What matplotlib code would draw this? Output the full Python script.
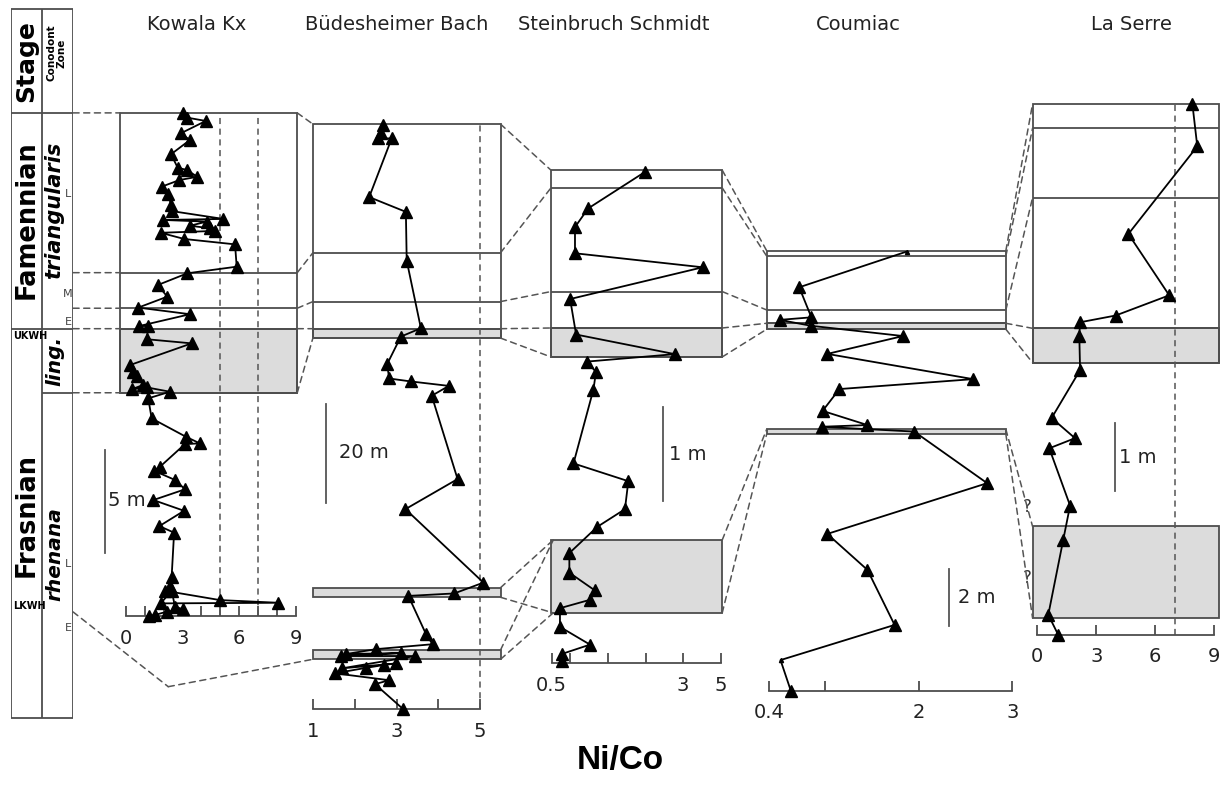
import numpy as np
import matplotlib.pyplot as plt
from matplotlib.patches import Rectangle, ConnectionPatch

W, H = 1226, 785
EDGE = '#4d4d4d'
GRAY = '#dcdcdc'
DASH = '#555555'
DSTYLE = (0, (4, 3))

# ---- data: Ni/Co ratio vs height above section base (m) ----
kowala_nico = [3.01, 3.25, 4.23, 2.90, 3.39, 2.39, 2.74, 3.22, 3.78, 2.83, 1.89, 2.24, 2.39, 2.42,
               5.16, 1.98, 4.28, 3.39, 4.45, 4.72, 1.84, 3.09, 5.78, 5.87, 3.25, 1.68, 2.19, 0.65,
               3.39, 0.71, 1.18, 1.10, 3.48, 0.21, 0.39, 0.60, 0.92, 0.30, 1.10, 2.33, 1.18, 1.36,
               3.18, 3.92, 3.13, 1.80, 1.48, 2.60, 3.13, 1.45, 3.08, 1.77, 2.55, 2.42, 2.33, 2.07,
               4.98, 8.08, 1.84, 2.42, 2.60, 3.04, 2.16, 1.54, 1.24]
kowala_h = [24.32, 24.11, 23.95, 23.35, 23.03, 22.34, 21.69, 21.58, 21.25, 21.09, 20.77, 20.40,
            19.88, 19.59, 19.21, 19.16, 19.08, 18.88, 18.76, 18.63, 18.54, 18.24, 17.98, 16.90,
            16.58, 16.01, 15.45, 14.92, 14.60, 14.03, 14.03, 13.39, 13.19, 12.14, 11.82, 11.61,
            11.18, 10.97, 11.06, 10.85, 10.53, 9.56, 8.67, 8.35, 8.32, 7.22, 7.03, 6.58, 6.13,
            5.61, 5.09, 4.35, 4.03, 1.90, 1.45, 1.22, 0.77, 0.64, 0.61, 1.22, 0.45, 0.32, 0.21,
            0.05, 0.0]

budes_nico = [2.68, 2.62, 2.56, 2.88, 2.34, 3.22, 3.24, 3.58, 3.10, 2.77, 2.82, 3.34, 4.25, 3.84,
              4.46, 3.21, 5.08, 4.38, 3.28, 3.70, 3.86, 2.50, 1.78, 3.10, 1.66, 3.44, 1.68, 2.98,
              2.70, 2.26, 1.52, 2.82, 2.48, 3.16]
budes_h = [118.5, 116.8, 115.8, 115.8, 103.9, 100.9, 91.0, 77.3, 75.6, 70.0, 67.1, 66.5, 65.6,
           63.6, 46.7, 40.6, 25.7, 23.5, 23.0, 15.3, 13.2, 12.2, 11.2, 11.4, 10.8, 10.8, 8.3,
           9.3, 9.0, 8.4, 7.3, 5.9, 5.1, 0.0]

stein_nico = [2.98, 1.47, 1.12, 1.12, 4.52, 0.99, 1.15, 3.78, 1.43, 1.68, 1.61, 1.08, 2.54, 2.45,
              1.71, 0.97, 0.97, 1.65, 1.52, 0.72, 0.72, 1.52, 0.77, 0.77]
stein_h = [5.26, 4.87, 4.67, 4.39, 4.24, 3.90, 3.52, 3.31, 3.23, 3.12, 2.93, 2.14, 1.95, 1.65,
           1.46, 1.18, 0.97, 0.78, 0.68, 0.59, 0.39, 0.20, 0.10, 0.02]

coumiac_nico = [1.87, 0.72, 0.85, 0.51, 0.85, 1.83, 1.02, 2.58, 1.15, 0.97, 1.45, 0.96, 1.95,
                2.73, 1.02, 1.45, 1.74, 0.52, 0.63]
coumiac_h = [15.49, 14.23, 13.17, 13.08, 12.87, 12.51, 11.88, 10.99, 10.64, 9.87, 9.37, 9.31,
             9.14, 7.32, 5.53, 4.26, 2.32, 1.08, 0.0]

serre_nico = [7.90, 8.15, 4.64, 6.72, 3.99, 2.18, 2.14, 2.18, 0.73, 1.92, 0.61, 1.67, 1.32, 0.56, 1.07]
serre_h = [7.88, 7.25, 5.95, 5.04, 4.74, 4.64, 4.44, 3.93, 3.22, 2.92, 2.77, 1.92, 1.41, 0.30, 0.0]

# zone boundaries (m) in each section: box top ... box bottom
kowala_levels = [24.34, 16.61, 14.89, 13.90, 10.80]
budes_levels = [118.7, 92.6, 82.7, 77.2, 75.3]
stein_levels = [5.28, 5.09, 3.98, 3.59, 3.28]
coumiac_levels = [15.52, 15.33, 13.43, 12.96, 12.75]
serre_levels = [7.88, 7.52, 6.49, 4.55, 4.04]

# grey (black-shale) intervals, (top, bottom)
kowala_grey = [(13.90, 10.80)]
budes_grey = [(77.2, 75.3), (24.67, 22.72), (12.03, 10.14)]
stein_grey = [(3.59, 3.28), (1.32, 0.54)]
coumiac_grey = [(12.96, 12.75), (9.22, 9.05)]
serre_grey = [(4.55, 4.04), (1.61, 0.25)]

fig = plt.figure(figsize=(W / 100, H / 100), dpi=100)


def make_axes(px_ref, val_ref, px_unit, vlim, ybase, ytop, px_m, hbase=0.0):
    left = px_ref + (vlim[0] - val_ref) * px_unit
    right = px_ref + (vlim[1] - val_ref) * px_unit
    ax = fig.add_axes([left / W, (H - ybase) / H, (right - left) / W, (ybase - ytop) / H])
    ax.set_xlim(*vlim)
    ax.set_ylim(hbase, hbase + (ybase - ytop) / px_m)
    ax.patch.set_alpha(0)
    for s in ['top', 'left', 'right']:
        ax.spines[s].set_visible(False)
    ax.spines['bottom'].set_color(EDGE)
    ax.spines['bottom'].set_linewidth(1.3)
    ax.set_yticks([])
    return ax


def section(ax, xl, xr, levels, greys, x, h, ticks, labels, thresholds=(), small=()):
    for g0, g1 in greys:
        ax.add_patch(Rectangle((xl, g1), xr - xl, g0 - g1, fc=GRAY, ec=EDGE, lw=1.3))
    ax.add_patch(Rectangle((xl, levels[-1]), xr - xl, levels[0] - levels[-1],
                           fill=False, ec=EDGE, lw=1.3))
    ax.hlines(levels[1:-1], xl, xr, color=EDGE, lw=1.3)
    for t in thresholds:
        ax.vlines(t, 0, levels[0], color=DASH, lw=1.1, ls=DSTYLE)
    big = [i for i in range(len(x)) if i not in small]
    ax.plot(x, h, '-^', color='black', ms=8, lw=1.3, clip_on=False, zorder=5, markevery=big)
    if small:
        ax.plot([x[i] for i in small], [h[i] for i in small], '^', color='black', ms=3,
                clip_on=False, zorder=5)
    ax.set_xticks(ticks)
    ax.set_xticklabels(labels)
    ax.spines['bottom'].set_bounds(ticks[0], ticks[-1])
    ax.tick_params(axis='x', direction='in', length=7, width=1.3, color=EDGE,
                   labelsize=14, pad=9, labelcolor='#222222')


def scale_bar(ax, x, h0, h1, txt, tx, ty):
    ax.plot([x, x], [h0, h1], color='#555555', lw=1.3, clip_on=False)
    ax.text(tx, ty, txt, fontsize=14, va='center', ha='left', color='#222222')


# ---- panels ----
ax_k = make_axes(126, 0, 18.86, (-0.5, 9.5), 616, 100, 20.67)
ax_b = make_axes(313.3, 1, 41.7, (0.9, 5.6), 709.3, 115, 4.93)
ax_s = make_axes(551.7, 0.5, 37.56, (0.4, 5.2), 663.3, 160, 93.4)
ax_c = make_axes(769.3, 0.4, 93.5, (0.35, 3.05), 690.7, 240, 28.35)
ax_l = make_axes(1037.3, 0, 19.63, (-0.4, 9.4), 635, 95, 67.4)

K_X = (-0.3, 9.08)
B_X = (0.99, 5.49)
S_X = (0.48, 5.04)
C_X = (0.372, 2.93)
L_X = (-0.24, 9.27)

section(ax_k, *K_X, kowala_levels, kowala_grey, kowala_nico, kowala_h,
        list(range(10)), ['0', '', '', '3', '', '', '6', '', '', '9'], thresholds=(5, 7))
section(ax_b, *B_X, budes_levels, budes_grey, budes_nico, budes_h,
        [1, 2, 3, 4, 5], ['1', '', '3', '', '5'], thresholds=(5,))
section(ax_s, *S_X, stein_levels, stein_grey, stein_nico, stein_h,
        [0.5, 1, 2, 3, 4, 5], ['0.5', '', '', '', '3', '5'])
section(ax_c, *C_X, coumiac_levels, coumiac_grey, coumiac_nico, coumiac_h,
        [0.4, 1, 2, 3], ['0.4', '', '2', '3'], small=(0, 17))
section(ax_l, *L_X, serre_levels, serre_grey, serre_nico, serre_h,
        [0, 3, 6, 9], ['0', '3', '6', '9'], thresholds=(7,))

scale_bar(ax_k, -1.11, 3.05, 8.05, '5 m', -0.95, 5.6)
scale_bar(ax_b, 1.30, 41.9, 61.9, '20 m', 1.62, 52)
scale_bar(ax_s, 3.455, 1.74, 2.74, '1 m', 3.62, 2.24)
scale_bar(ax_c, 2.325, 2.28, 4.28, '2 m', 2.42, 3.3)
scale_bar(ax_l, 3.96, 2.14, 3.14, '1 m', 4.15, 2.64)

ax_l.text(-0.52, 1.90, '?', fontsize=12, ha='center', va='center', color='#333333')
ax_l.text(-0.52, 0.85, '?', fontsize=12, ha='center', va='center', color='#333333')

# ---- stratigraphic column (uses Kowala height scale) ----
col = make_axes(11, 0, 62, (0, 1), 720, 5, 20.67, hbase=-(720 - 616) / 20.67)
col.spines['bottom'].set_visible(False)
col.set_xticks([])
c_top, c_head, c_bot = 29.35, 24.34, -4.93
mid = 0.495
col.add_patch(Rectangle((0, c_bot), 1, c_top - c_bot, fill=False, ec=EDGE, lw=1.3))
col.vlines(mid, c_bot, c_top, color=EDGE, lw=1.3)
col.hlines(c_head, 0, 1, color=EDGE, lw=1.3)
col.hlines(13.90, 0, 1, color=EDGE, lw=1.3)
col.hlines(10.80, mid, 1, color=EDGE, lw=1.3)
col.text(0.25, (c_top + c_head) / 2, 'Stage', rotation=90, ha='center', va='center',
         fontsize=18, fontweight='bold')
col.text(0.74, (c_top + c_head) / 2 + 0.4, 'Conodont\nZone', rotation=90, ha='center', va='center',
         fontsize=7.5, fontweight='bold', linespacing=1.0)
col.text(0.25, 19.2, 'Famennian', rotation=90, ha='center', va='center', fontsize=18.5, fontweight='bold')
col.text(0.25, 4.9, 'Frasnian', rotation=90, ha='center', va='center', fontsize=18.5, fontweight='bold')
col.text(0.70, 19.6, 'triangularis', rotation=90, ha='center', va='center', fontsize=15,
         fontweight='bold', style='italic')
col.text(0.70, 12.35, 'ling.', rotation=90, ha='center', va='center', fontsize=14.5,
         fontweight='bold', style='italic')
col.text(0.70, 3.0, 'rhenana', rotation=90, ha='center', va='center', fontsize=14.5,
         fontweight='bold', style='italic')
col.text(0.03, 13.55, 'UKWH', ha='left', va='center', fontsize=7, fontweight='bold')
col.text(0.03, 0.5, 'LKWH', ha='left', va='center', fontsize=7, fontweight='bold')
for lab, hh in [('L', 20.4), ('M', 15.6), ('E', 14.2), ('L', 2.5), ('E', -0.6)]:
    col.text(0.92, hh, lab, ha='center', va='center', fontsize=8, color='#444444')


# ---- correlation lines ----
def link(axA, xa, ya, axB, xb, yb):
    fig.add_artist(ConnectionPatch((xa, ya), (xb, yb), coordsA=axA.transData,
                                   coordsB=axB.transData, color=DASH, lw=1.1, ls=DSTYLE))


for hh in [24.34, 16.61, 14.89, 13.90, 10.80]:
    link(col, 1, hh, ax_k, K_X[0], hh)
for a, b in zip(kowala_levels, budes_levels):
    link(ax_k, K_X[1], a, ax_b, B_X[0], b)
for a, b in zip(budes_levels, stein_levels):
    link(ax_b, B_X[1], a, ax_s, S_X[0], b)
for a, b in zip(stein_levels, coumiac_levels):
    link(ax_s, S_X[1], a, ax_c, C_X[0], b)
for a, b in zip(coumiac_levels, serre_levels):
    link(ax_c, C_X[1], a, ax_l, L_X[0], b)

# lower Kellwasser correlation
link(col, 1, 0.2, ax_k, 2.24, -3.42)
link(ax_k, 2.24, -3.42, ax_b, B_X[0], 10.14)
link(ax_b, B_X[1], 24.67, ax_s, 0.54, 1.32)
link(ax_b, B_X[1], 22.72, ax_s, 0.54, 0.54)
link(ax_b, B_X[1], 12.03, ax_s, 0.54, 1.32)
link(ax_b, B_X[1], 10.14, ax_s, 0.54, 0.54)
link(ax_s, S_X[1], 1.32, ax_c, C_X[0], 9.22)
link(ax_s, S_X[1], 0.54, ax_c, C_X[0], 9.05)
link(ax_c, C_X[1], 9.22, ax_l, L_X[0], 1.61)
link(ax_c, C_X[1], 9.05, ax_l, L_X[0], 0.25)

# ---- titles ----
for name, cx in [('Kowala Kx', 197), ('Büdesheimer Bach', 397), ('Steinbruch Schmidt', 614),
                 ('Coumiac', 858), ('La Serre', 1131)]:
    fig.text(cx / W, 1 - 24 / H, name, ha='center', va='center', fontsize=14, color='#222222')
fig.text(620 / W, 1 - 760 / H, 'Ni/Co', ha='center', va='center', fontsize=24,
         fontweight='bold', family='Liberation Sans')

fig.savefig('out.png', dpi=100)
